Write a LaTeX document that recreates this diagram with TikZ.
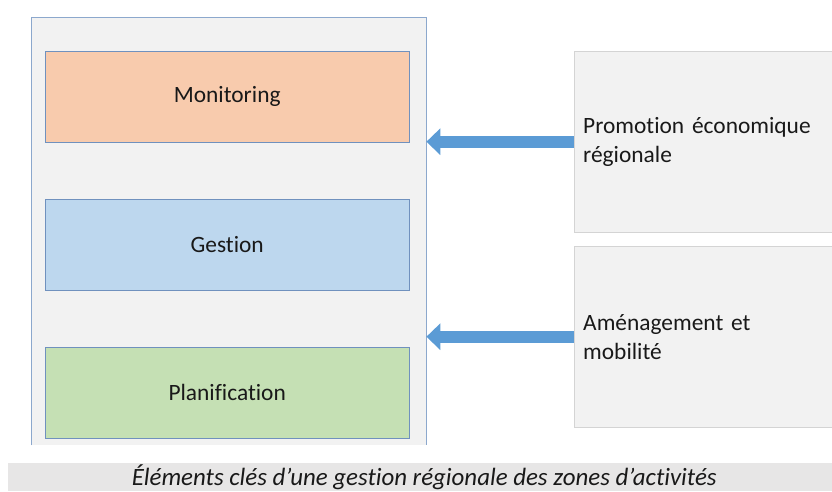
\documentclass[tikz,border=0pt]{standalone}
\usepackage{fontspec}
\setmainfont[Ligatures=NoCommon]{Carlito}
\usetikzlibrary{arrows.meta}

\definecolor{panelgray}{RGB}{242,242,242}
\definecolor{frameline}{RGB}{140,168,205}
\definecolor{boxline}{RGB}{112,145,190}
\definecolor{monfill}{RGB}{248,203,173}
\definecolor{gesfill}{RGB}{189,215,238}
\definecolor{planfill}{RGB}{197,224,180}
\definecolor{sideline}{RGB}{212,212,212}
\definecolor{arrowblue}{RGB}{91,155,213}
\definecolor{capgray}{RGB}{231,230,230}

\tikzset{
  txt/.style={font=\fontsize{23.4}{29}\selectfont, text=black!90},
  inbox/.style={txt, draw=boxline, anchor=north west, minimum width=364pt, minimum height=91pt},
  sidebox/.style={txt, draw=sideline, fill=panelgray, anchor=north west, text width=240pt,
    inner xsep=9pt, minimum height=181pt, align=left},
  flow/.style={line width=12pt, arrowblue, -{Triangle[width=26pt,length=14pt]}}
}

\begin{document}
\begin{tikzpicture}[x=1pt,y=-1pt]
  \useasboundingbox (0,0) rectangle (832,491);
  % left panel, open at the bottom
  \node[fill=panelgray, anchor=north west, minimum width=395pt, minimum height=428pt] (frame) at (31,17) {};
  \draw[frameline] (frame.south west) -- (frame.north west) -- (frame.north east) -- (frame.south east);
  \node[inbox, fill=monfill] (monitoring) at (45,51) {Monitoring};
  \node[inbox, fill=gesfill] (gestion) at (45,199) {Gestion};
  \node[inbox, fill=planfill] (planif) at (45,347) {Planification};
  % right boxes
  \node[sidebox] (promo) at (574,51) {Promotion économique\\régionale};
  \node[sidebox] (amenag) at (574,246) {Aménagement et\\mobilité};
  \draw[flow] (promo.west) -- (promo.west -| frame.east);
  \draw[flow] (amenag.west) -- (amenag.west -| frame.east);
  % caption
  \node[fill=capgray, anchor=north west, minimum width=824pt, minimum height=28pt, inner sep=0pt,
    font=\fontsize{24.9}{28}\selectfont\itshape, text=black!90] (caption) at (8,463)
    {\hspace{8pt}Éléments clés d’une gestion régionale des zones d’activités};
\end{tikzpicture}
\end{document}
